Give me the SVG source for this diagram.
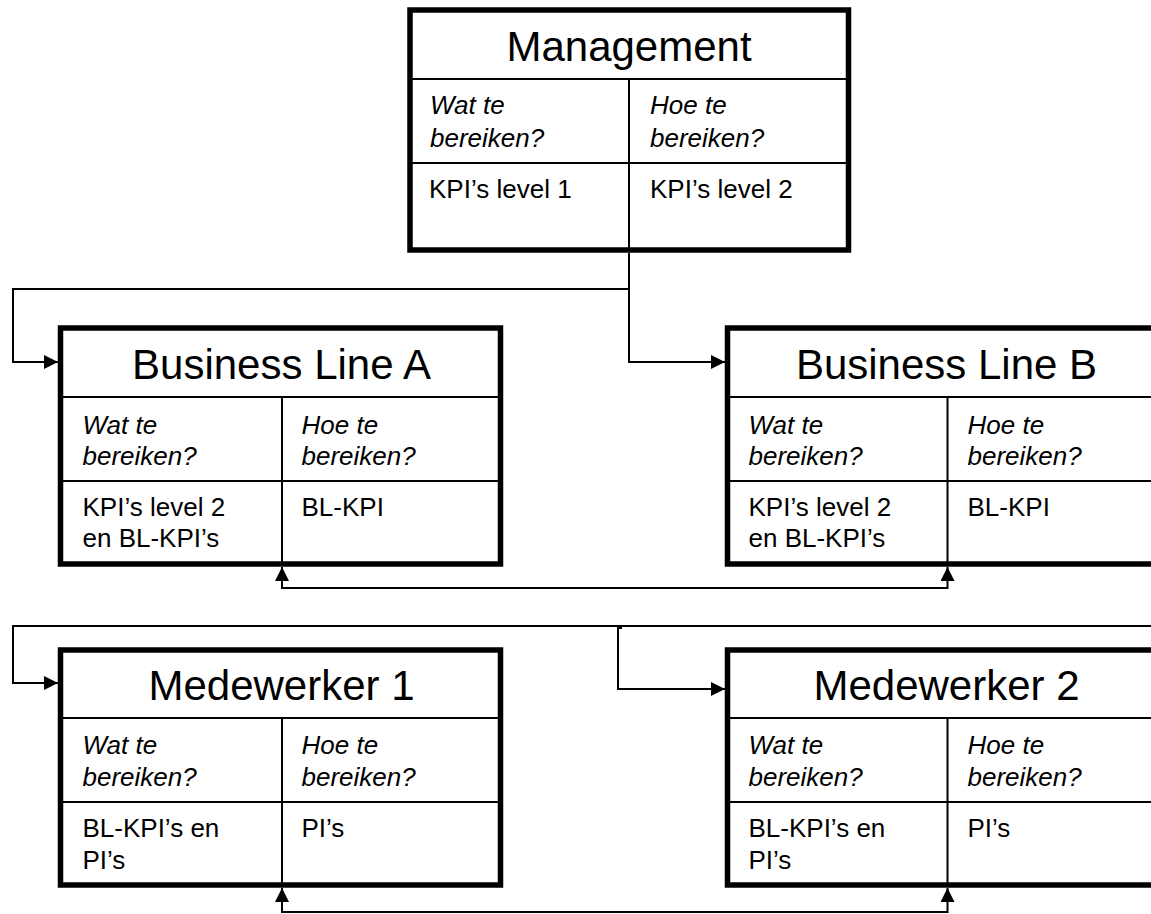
<svg xmlns="http://www.w3.org/2000/svg" width="1151" height="914" viewBox="0 0 1151 914">
  <style>
    .frame { fill: #ffffff; stroke: #000000; stroke-width: 5.5; }
    .grid { stroke: #000000; stroke-width: 2; fill: none; }
    .title { font-family: "Liberation Sans", Arial, sans-serif; font-size: 42px; fill: #000000; text-anchor: middle; }
    .head { font-family: "Liberation Sans", Arial, sans-serif; font-size: 26px; font-style: italic; fill: #000000; }
    .cell { font-family: "Liberation Sans", Arial, sans-serif; font-size: 26px; fill: #000000; }
    .link { stroke: #000000; stroke-width: 2; fill: none; }
  </style>
  <defs>
    <marker id="arrow" markerUnits="userSpaceOnUse" markerWidth="14" markerHeight="14" refX="14" refY="7" orient="auto-start-reverse">
      <path d="M0,0 L14,7 L0,14 Z" fill="#000000"/>
    </marker>
  </defs>

  <rect x="0" y="0" width="1151" height="914" fill="#ffffff"/>

  <!-- connectors -->
  <g id="connectors">
    <path class="link" d="M629,253 V289 H13 V362 H58" marker-end="url(#arrow)"/>
    <path class="link" d="M629,289 V362 H725" marker-end="url(#arrow)"/>
    <path class="link" d="M282,567 V588 H947.5 V567" marker-start="url(#arrow)" marker-end="url(#arrow)"/>
    <path class="link" d="M1160,626 H13 V683 H58" marker-end="url(#arrow)"/>
    <path class="link" d="M622,628 H618 V689 H725" marker-end="url(#arrow)"/>
    <path class="link" d="M282,888 V912 H947.5 V888" marker-start="url(#arrow)" marker-end="url(#arrow)"/>
  </g>

  <!-- Management -->
  <g id="management" transform="translate(410,10)">
    <rect class="frame" x="0" y="0" width="438.5" height="240"/>
    <path class="grid" d="M0,69 H438.5 M0,153 H438.5 M219,69 V240"/>
    <text class="title" x="219" y="51">Management</text>
    <text class="head" x="20" y="104">Wat te</text>
    <text class="head" x="20" y="137">bereiken?</text>
    <text class="head" x="240" y="104">Hoe te</text>
    <text class="head" x="240" y="137">bereiken?</text>
    <text class="cell" x="19" y="188">KPI’s level 1</text>
    <text class="cell" x="240" y="188">KPI’s level 2</text>
  </g>

  <!-- Business Line A -->
  <g id="business-line-a" transform="translate(60.5,328)">
    <rect class="frame" x="0" y="0" width="440" height="236"/>
    <path class="grid" d="M0,69 H440 M0,153 H440 M221.5,69 V236"/>
    <text class="title" x="221" y="51">Business Line A</text>
    <text class="head" x="22" y="106">Wat te</text>
    <text class="head" x="22" y="137">bereiken?</text>
    <text class="head" x="241" y="106">Hoe te</text>
    <text class="head" x="241" y="137">bereiken?</text>
    <text class="cell" x="22" y="188">KPI’s level 2</text>
    <text class="cell" x="22" y="219">en BL-KPI’s</text>
    <text class="cell" x="241" y="188">BL-KPI</text>
  </g>

  <!-- Business Line B -->
  <g id="business-line-b" transform="translate(727.5,328)">
    <rect class="frame" x="0" y="0" width="440" height="236"/>
    <path class="grid" d="M0,69 H440 M0,153 H440 M220,69 V236"/>
    <text class="title" x="219" y="51">Business Line B</text>
    <text class="head" x="21" y="106">Wat te</text>
    <text class="head" x="21" y="137">bereiken?</text>
    <text class="head" x="240" y="106">Hoe te</text>
    <text class="head" x="240" y="137">bereiken?</text>
    <text class="cell" x="21" y="188">KPI’s level 2</text>
    <text class="cell" x="21" y="219">en BL-KPI’s</text>
    <text class="cell" x="240" y="188">BL-KPI</text>
  </g>

  <!-- Medewerker 1 -->
  <g id="medewerker-1" transform="translate(60.5,650)">
    <rect class="frame" x="0" y="0" width="440" height="235"/>
    <path class="grid" d="M0,68 H440 M0,152 H440 M221.5,68 V235"/>
    <text class="title" x="221" y="50">Medewerker 1</text>
    <text class="head" x="22" y="104">Wat te</text>
    <text class="head" x="22" y="136">bereiken?</text>
    <text class="head" x="241" y="104">Hoe te</text>
    <text class="head" x="241" y="136">bereiken?</text>
    <text class="cell" x="22" y="187">BL-KPI’s en</text>
    <text class="cell" x="22" y="219">PI’s</text>
    <text class="cell" x="241" y="187">PI’s</text>
  </g>

  <!-- Medewerker 2 -->
  <g id="medewerker-2" transform="translate(727.5,650)">
    <rect class="frame" x="0" y="0" width="440" height="235"/>
    <path class="grid" d="M0,68 H440 M0,152 H440 M220,68 V235"/>
    <text class="title" x="219" y="50">Medewerker 2</text>
    <text class="head" x="21" y="104">Wat te</text>
    <text class="head" x="21" y="136">bereiken?</text>
    <text class="head" x="240" y="104">Hoe te</text>
    <text class="head" x="240" y="136">bereiken?</text>
    <text class="cell" x="21" y="187">BL-KPI’s en</text>
    <text class="cell" x="21" y="219">PI’s</text>
    <text class="cell" x="240" y="187">PI’s</text>
  </g>
</svg>
